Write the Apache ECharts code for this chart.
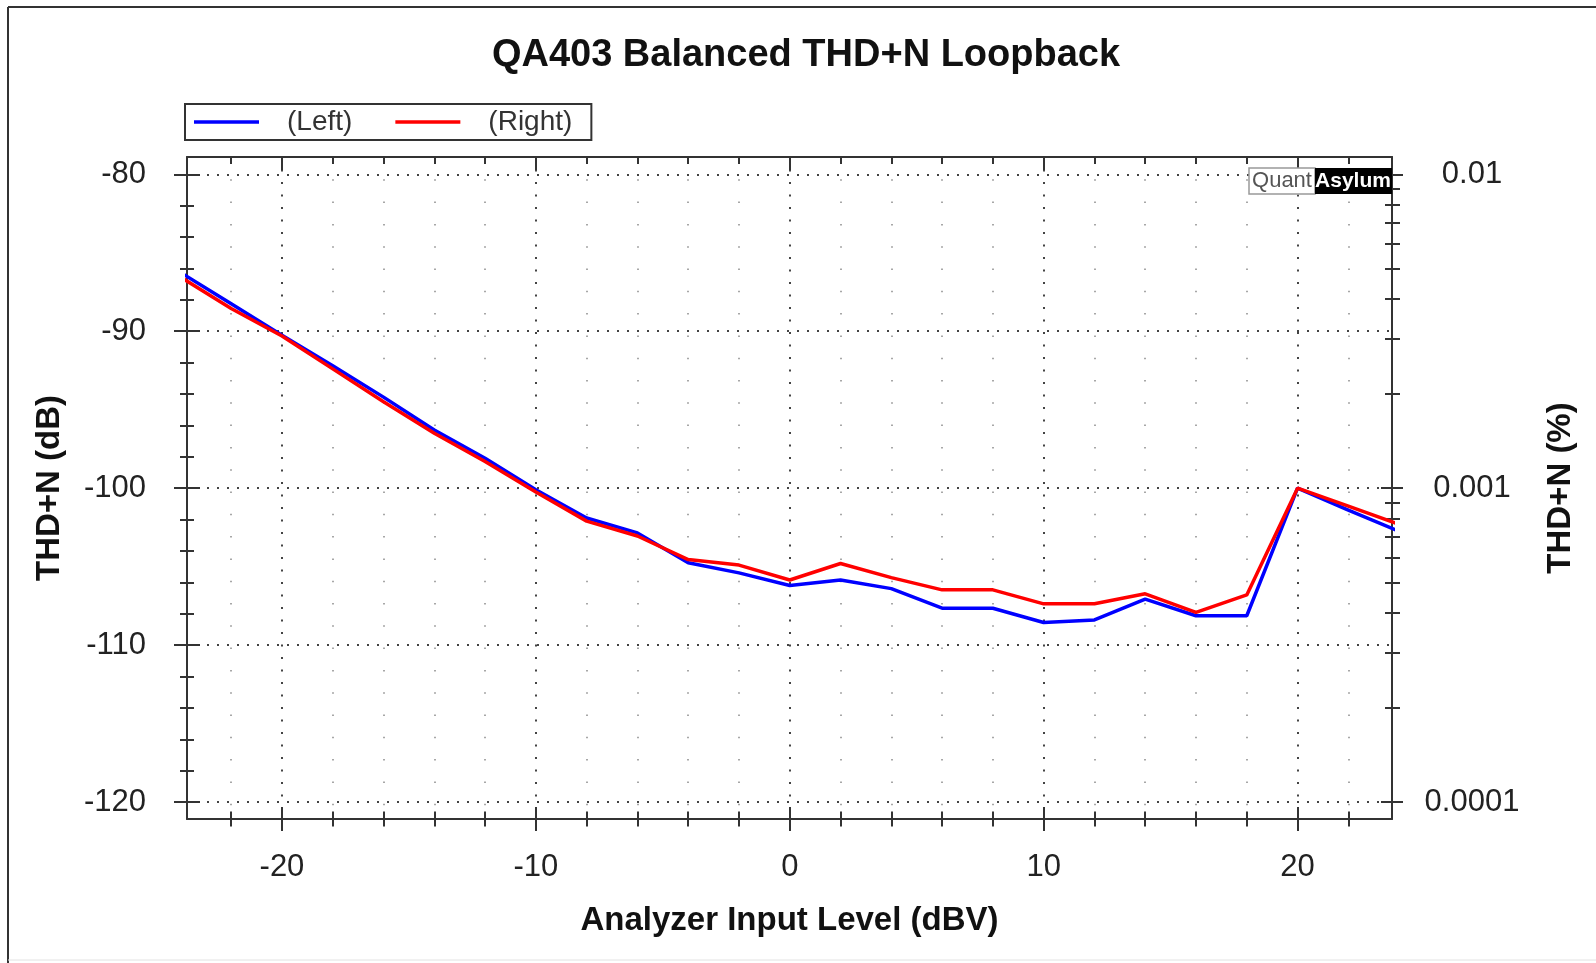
<!DOCTYPE html>
<html>
<head>
<meta charset="utf-8">
<title>QA403 Balanced THD+N Loopback</title>
<script src="https://cdn.jsdelivr.net/npm/echarts@6/dist/echarts.min.js"></script>
<style>
  html, body { margin: 0; padding: 0; background: #fff; }
  #chart { width: 1596px; height: 963px; }
</style>
</head>
<body>
<div id="chart"></div>
<script>
// analyzer input level (dBV) and THD+N (dB)
var levels   = [-24, -22, -20, -18, -16, -14, -12, -10, -8, -6, -4, -2, 0, 2, 4, 6, 8, 10, 12, 14, 16, 18, 20, 22, 24];
var leftThd  = [-86.25, -88.25, -90.25, -92.2, -94.2, -96.3, -98.1, -100.1, -101.9, -102.85, -104.75, -105.4, -106.2, -105.85, -106.4, -107.65, -107.65, -108.56, -108.4, -107.07, -108.13, -108.13, -100.0, -101.4, -102.75];
var rightThd = [-86.55, -88.55, -90.3, -92.4, -94.5, -96.5, -98.3, -100.25, -102.1, -103.05, -104.55, -104.9, -105.85, -104.8, -105.7, -106.48, -106.48, -107.37, -107.37, -106.73, -107.92, -106.8, -100.0, -101.15, -102.3];

// tick positions
var xMajor = [-20, -10, 0, 10, 20];
var xMinor = [-22, -18, -16, -14, -12, -8, -6, -4, -2, 2, 4, 6, 8, 12, 14, 16, 18, 22];
var yMajor = [-80, -90, -100, -110, -120];
var yMinor = [-82, -84, -86, -88, -92, -94, -96, -98, -102, -104, -106, -108, -112, -114, -116, -118];
var pctMajor = [0.01, 0.001, 0.0001];
var pctMinor = [0.009, 0.008, 0.007, 0.006, 0.005, 0.004, 0.003, 0.002,
                0.0009, 0.0008, 0.0007, 0.0006, 0.0005, 0.0004, 0.0003, 0.0002];

var X_MIN = -23.74, X_MAX = 23.72;
var Y_MIN = -121.08, Y_MAX = -78.9;

var axisColor = '#333';
var font = 'Liberation Sans, Arial, Helvetica, sans-serif';

// percent -> dB, so the right axis can share the left axis scale
function pctToDb(p) { return 20 * Math.log10(p / 100); }

function pairs(xs, ys) {
  return xs.map(function (x, i) { return [x, ys[i]]; });
}

// an extra axis that only draws ticks (used to get ticks crossing the frame)
function tickOnly(dim, position, values, len, inside) {
  return {
    type: 'value',
    position: position,
    min: dim === 'x' ? X_MIN : Y_MIN,
    max: dim === 'x' ? X_MAX : Y_MAX,
    axisLine: { show: false, onZero: false },
    axisTick: { show: true, inside: inside, length: len, customValues: values,
                lineStyle: { color: axisColor, width: 2 } },
    axisLabel: { show: false },
    splitLine: { show: false }
  };
}

var chart = echarts.init(document.getElementById('chart'));

var minorVert = tickOnly('x', 'bottom', xMinor, 7.5, false);
minorVert.splitLine = { show: true, lineStyle: { color: '#8a8a8a', width: 1.5, type: [1.5, 20.8] } };

var topAxis = tickOnly('x', 'top', xMajor, 13, true);
topAxis.axisLine = { show: true, onZero: false, lineStyle: { color: axisColor, width: 2 } };

var option = {
  animation: false,
  backgroundColor: '#fff',
  title: {
    text: 'QA403 Balanced THD+N Loopback',
    left: 801,
    textAlign: 'center',
    top: 32,
    textStyle: { fontSize: 38, fontWeight: 'bold', color: '#111', fontFamily: font }
  },
  legend: {
    left: 185,
    top: 104,
    orient: 'horizontal',
    data: ['(Left)', '(Right)'],
    icon: 'rect',
    itemWidth: 65,
    itemHeight: 3.5,
    itemGap: 43,
    padding: [4, 19, 4, 9],
    borderColor: axisColor,
    borderWidth: 2,
    borderRadius: 0,
    textStyle: { fontSize: 28, color: '#333', fontFamily: font, padding: [0, 0, 0, 23] }
  },
  grid: { left: 187, right: 204, top: 157, bottom: 144 },
  xAxis: [
    {
      type: 'value', position: 'bottom', min: X_MIN, max: X_MAX,
      name: 'Analyzer Input Level (dBV)', nameLocation: 'middle', nameGap: 85,
      nameTextStyle: { fontSize: 33, fontWeight: 'bold', color: '#111', fontFamily: font },
      axisLine: { onZero: false, lineStyle: { color: axisColor, width: 2 } },
      axisTick: { inside: false, length: 12, customValues: xMajor, lineStyle: { color: axisColor, width: 2 } },
      axisLabel: { customValues: xMajor, fontSize: 31, margin: 33, color: '#222', fontFamily: font },
      splitLine: { show: true, lineStyle: { color: '#444', width: 2, type: [2, 10.5] } }
    },
    tickOnly('x', 'bottom', xMajor, 12, true),
    minorVert,
    tickOnly('x', 'bottom', xMinor, 7.5, true),
    topAxis,
    tickOnly('x', 'top', xMinor, 7, true)
  ],
  yAxis: [
    {
      type: 'value', position: 'left', min: Y_MIN, max: Y_MAX,
      name: 'THD+N (dB)', nameLocation: 'middle', nameGap: 121, nameRotate: 90,
      nameTextStyle: { fontSize: 33, fontWeight: 'bold', color: '#111', fontFamily: font },
      axisLine: { onZero: false, lineStyle: { color: axisColor, width: 2 } },
      axisTick: { inside: false, length: 13, customValues: yMajor, lineStyle: { color: axisColor, width: 2 } },
      axisLabel: { customValues: yMajor, fontSize: 31, margin: 41, color: '#222', fontFamily: font },
      splitLine: { show: true, lineStyle: { color: '#444', width: 2, type: [2, 8] } }
    },
    tickOnly('y', 'left', yMajor, 13, true),
    tickOnly('y', 'left', yMinor, 7, false),
    tickOnly('y', 'left', yMinor, 7, true),
    {
      type: 'value', position: 'right', min: Y_MIN, max: Y_MAX,
      name: 'THD+N (%)', nameLocation: 'middle', nameGap: 152, nameRotate: 90,
      nameTextStyle: { fontSize: 33, fontWeight: 'bold', color: '#111', fontFamily: font },
      axisLine: { onZero: false, lineStyle: { color: axisColor, width: 2 } },
      axisTick: { inside: false, length: 11, customValues: pctMajor.map(pctToDb), lineStyle: { color: axisColor, width: 2 } },
      axisLabel: {
        customValues: pctMajor.map(pctToDb), fontSize: 31, margin: 80, align: 'center',
        color: '#222', fontFamily: font,
        formatter: function (v) { return String(+(100 * Math.pow(10, v / 20)).toPrecision(3)); }
      },
      splitLine: { show: false }
    },
    tickOnly('y', 'right', pctMajor.map(pctToDb), 11, true),
    tickOnly('y', 'right', pctMinor.map(pctToDb), 8, false),
    tickOnly('y', 'right', pctMinor.map(pctToDb), 7, true)
  ],
  series: [
    {
      name: '(Left)', type: 'line', xAxisIndex: 0, yAxisIndex: 0,
      data: pairs(levels, leftThd), symbol: 'none',
      lineStyle: { color: '#0000ff', width: 3.5 }, itemStyle: { color: '#0000ff' }
    },
    {
      name: '(Right)', type: 'line', xAxisIndex: 0, yAxisIndex: 0,
      data: pairs(levels, rightThd), symbol: 'none',
      lineStyle: { color: '#ff0000', width: 3.5 }, itemStyle: { color: '#ff0000' }
    }
  ],
  graphic: [
    // outer frame of the screenshot
    { type: 'line', shape: { x1: 8, y1: 7, x2: 1596, y2: 7 }, style: { stroke: '#333', lineWidth: 2 } },
    { type: 'line', shape: { x1: 8, y1: 7, x2: 8, y2: 963 }, style: { stroke: '#333', lineWidth: 2 } },
    { type: 'line', shape: { x1: 8, y1: 960, x2: 1596, y2: 960 }, style: { stroke: '#e2e2e2', lineWidth: 1 } },
    // QuantAsylum badge
    { type: 'rect', z: 5, shape: { x: 1249, y: 168, width: 66, height: 26 }, style: { fill: '#fff', stroke: '#999', lineWidth: 1.5 } },
    { type: 'text', z: 6, x: 1282, y: 181, style: { text: 'Quant', fill: '#555', fontSize: 22, fontFamily: font, align: 'center', verticalAlign: 'middle' } },
    { type: 'rect', z: 5, shape: { x: 1315, y: 168, width: 77, height: 26 }, style: { fill: '#000' } },
    { type: 'text', z: 6, x: 1353, y: 181, style: { text: 'Asylum', fill: '#fff', fontSize: 21, fontWeight: 'bold', fontFamily: font, align: 'center', verticalAlign: 'middle' } }
  ]
};

chart.setOption(option);
</script>
</body>
</html>
